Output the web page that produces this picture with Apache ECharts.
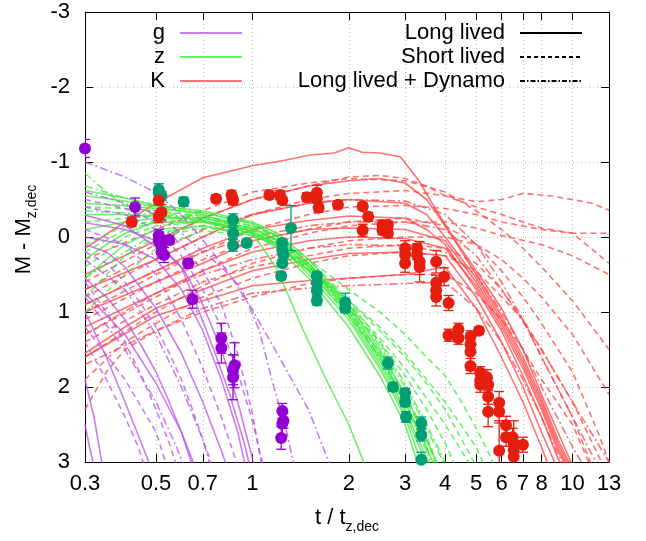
<!DOCTYPE html>
<html><head><meta charset="utf-8">
<script src="https://cdn.jsdelivr.net/npm/echarts@6/dist/echarts.min.js"></script>
<style>html,body{margin:0;padding:0;background:#fff}#c{width:646px;height:541px}</style>
</head><body><div id="c"></div>
<script>
// ---------- tick labels ----------
const xTicks = [0.3,0.5,0.7,1,2,3,4,5,6,7,8,10,13];
const yTicks = [-3,-2,-1,0,1,2,3];

// ---------- observed points (t, M, error) ----------
const gT = [0.3,0.43,0.51,0.51,0.52,0.52,0.53,0.55,0.63,0.65,0.8,0.8,0.87,0.87,0.88,1.24,1.25,1.24,1.23];
const gM = [-1.18,-0.4,-0.02,0.05,0.12,0.2,0.24,0.04,0.35,0.83,1.35,1.48,1.87,1.77,1.71,2.32,2.45,2.49,2.68];
const gE = [0.12,0.12,0.08,0.06,0.06,0.08,0.1,0.06,0.06,0.12,0.2,0.2,0.3,0.2,0.3,0.1,0.1,0.15,0.15];

const zT = [0.51,0.51,0.52,0.61,0.87,0.87,0.87,0.96,1.24,1.24,1.25,1.24,1.23,1.32,1.59,1.59,1.59,1.59,1.95,1.95,2.65,2.75,3.0,3.0,3.02,3.37,3.37,3.37];
const zM = [-0.63,-0.59,-0.55,-0.47,-0.23,-0.05,0.11,0.08,0.08,0.17,0.24,0.35,0.52,-0.12,0.52,0.61,0.72,0.85,0.87,0.95,1.68,2.0,2.08,2.2,2.4,2.48,2.64,2.97];
const zE = [0.08,0.06,0.06,0.06,0.08,0.08,0.08,0.05,0.05,0.05,0.05,0.05,0.05,0.3,0.05,0.05,0.05,0.06,0.12,0.06,0.08,0.05,0.06,0.06,0.07,0.08,0.08,0.1];

const kT = [0.42,0.51,0.52,0.51,0.77,0.86,0.87,1.13,1.22,1.24,1.48,1.59,1.59,1.61,1.85,2.21,2.3,2.21,2.55,2.55,2.65,2.65,3.0,3.0,3.0,3.27,3.27,3.33,3.33,3.75,3.97,3.75,3.75,3.75,4.1,4.1,4.4,4.4,4.8,4.8,4.8,4.8,5.1,5.15,5.15,5.15,5.4,5.45,5.45,5.45,5.9,5.9,5.9,6.2,6.2,6.5,6.55,6.55,6.55,7.0];
const kM = [-0.2,-0.49,-0.33,-0.27,-0.51,-0.56,-0.49,-0.56,-0.56,-0.49,-0.53,-0.59,-0.51,-0.39,-0.43,-0.41,-0.27,-0.09,-0.16,-0.09,-0.16,-0.05,0.15,0.24,0.35,0.15,0.24,0.33,0.4,0.33,0.53,0.61,0.71,0.8,0.88,1.31,1.23,1.35,1.33,1.43,1.53,1.72,1.25,1.81,1.91,1.97,1.87,1.97,2.13,2.33,2.21,2.33,2.85,2.51,2.67,2.67,2.75,2.84,2.93,2.77];
const kE = [0.06,0.06,0.1,0.08,0.05,0.06,0.06,0.05,0.06,0.05,0.06,0.1,0.05,0.06,0.05,0.05,0.06,0.08,0.06,0.06,0.05,0.05,0.1,0.1,0.12,0.06,0.06,0.27,0.1,0.15,0.12,0.1,0.1,0.12,0.1,0.08,0.08,0.08,0.08,0.08,0.25,0.1,0.05,0.08,0.1,0.1,0.1,0.08,0.1,0.2,0.15,0.15,0.4,0.12,0.12,0.12,0.3,0.1,0.1,0.1];

// ---------- model curves [t, M] ----------
const kLong = [
 [[0.3,0.15],[0.4,-0.2],[0.5,-0.45],[0.7,-0.79],[1,-0.95],[1.25,-1.02],[1.5,-1.09],[1.8,-1.12],[2,-1.19],[2.2,-1.13],[2.5,-1.12],[2.9,-1.07],[3.3,-0.76],[3.7,-0.4],[4.1,-0.09],[5,0.45],[6,0.95],[7,1.5],[8,2.1],[9,2.6],[10,3.05]],
 [[0.3,0.5],[0.5,0.05],[0.7,-0.25],[1,-0.5],[1.5,-0.68],[2,-0.75],[2.5,-0.78],[3,-0.72],[3.5,-0.5],[4,-0.15],[5,0.5],[6,1.05],[7,1.6],[8,2.15],[9,2.7],[10,3.1]],
 [[0.3,0.9],[0.5,0.45],[0.7,0.15],[1,-0.1],[1.5,-0.22],[2,-0.28],[3,-0.25],[3.5,-0.1],[4,0.1],[5,0.7],[6,1.25],[7,1.85],[8,2.4],[9,2.95],[10,3.3]],
 [[0.3,1.2],[0.5,0.75],[0.7,0.45],[1,0.2],[1.5,0.05],[2,0.0],[3,0.02],[4,0.15],[5,0.65],[6,1.2],[7,1.75],[8,2.3],[9,2.85],[10,3.2]],
 [[0.3,1.55],[0.4,1.2],[0.5,0.95],[0.7,0.7],[1,0.45],[1.5,0.3],[2,0.22],[3,0.2],[4,0.25],[5,0.8],[6,1.4],[7,2.0],[8,2.6],[9,3.1]],
 [[0.3,1.0],[0.5,0.6],[0.7,0.35],[1,0.05],[1.5,-0.1],[2,-0.12],[3,-0.1],[4,0.05],[5,0.6],[6,1.15],[7,1.7],[8,2.25],[9,2.8],[10,3.2]],
 [[0.3,1.6],[0.5,1.05],[0.7,0.85],[1,0.65],[1.5,0.58],[2,0.55],[3,0.5],[4,0.4],[5,0.95],[6,1.6],[7,2.2],[8,2.8],[8.5,3.1]],
 [[0.3,0.7],[0.5,0.3],[0.7,0.0],[1,-0.3],[1.5,-0.45],[2,-0.5],[3,-0.45],[3.5,-0.3],[4,0.0],[5,0.55],[6,1.1],[7,1.65],[8,2.2],[9,2.75],[10,3.15]]
];
const kShort = [
 [[0.3,0.6],[0.5,0.1],[0.7,-0.25],[1,-0.5],[1.5,-0.68],[2,-0.8],[2.5,-0.82],[3,-0.78],[3.5,-0.68],[4,-0.55],[5,-0.47],[6,-0.5],[7,-0.58],[8.5,-0.55],[10,-0.5],[11.5,-0.45],[13,-0.36]],
 [[0.3,0.8],[0.5,0.3],[0.7,0.0],[1,-0.3],[1.5,-0.5],[2,-0.58],[3,-0.62],[4,-0.55],[5,-0.4],[6,-0.3],[7,-0.2],[8,-0.12],[10,-0.05],[13,0.35]],
 [[0.3,1.0],[0.5,0.5],[0.7,0.2],[1,-0.1],[1.5,-0.3],[2,-0.4],[3,-0.42],[4,-0.38],[5,-0.3],[6,-0.2],[8,-0.1],[10,-0.05],[13,-0.05]],
 [[0.3,1.3],[0.5,0.8],[0.7,0.45],[1,0.15],[1.5,-0.05],[2,-0.15],[3,-0.2],[4,-0.2],[5,-0.12],[6,-0.02],[8,0.1],[10,0.25],[13,0.5]],
 [[0.3,1.6],[0.5,1.0],[0.7,0.65],[1,0.35],[1.5,0.15],[2,0.05],[3,0.0],[4,0.0],[5,0.1],[6,0.3],[7,0.55],[8,0.8],[10,1.3],[13,2.1]],
 [[0.3,1.9],[0.4,1.4],[0.5,1.15],[0.7,0.8],[1,0.55],[1.5,0.35],[2,0.25],[3,0.2],[4,0.25],[5,0.45],[6,0.8],[7,1.1],[8,1.5],[10,2.2],[12,2.9],[13,3.2]],
 [[0.3,2.3],[0.35,1.8],[0.4,1.5],[0.5,1.25],[0.7,1.0],[1,0.8],[1.5,0.62],[2,0.55],[3,0.5],[4,0.5],[5,0.75],[6,1.1],[7,1.5],[8,1.9],[10,2.5],[11.5,3.1]],
 [[0.3,0.3],[0.5,-0.1],[0.7,-0.35],[1,-0.6],[1.5,-0.72],[2,-0.78],[3,-0.75],[4,-0.6],[5,-0.35],[6,-0.1],[7,0.15],[8,0.4],[10,0.85],[13,1.5]],
 [[0.3,1.1],[0.5,0.6],[0.7,0.3],[1,0.05],[1.5,-0.1],[2,-0.2],[3,-0.25],[4,-0.15],[5,0.1],[6,0.45],[7,0.8],[8,1.15],[10,1.8],[12,2.6],[13,3.0]],
 [[0.3,1.4],[0.5,0.9],[0.7,0.6],[1,0.4],[1.5,0.25],[2,0.15],[3,0.1],[4,0.15],[5,0.35],[6,0.7],[7,1.1],[8,1.6],[10,2.4],[11.5,3.05]]
];
const kDynamo = [
 [[0.3,0.7],[0.5,0.2],[0.7,-0.1],[1,-0.3],[1.5,-0.45],[2,-0.5],[3,-0.48],[4,-0.3],[5,0.1],[6,0.6],[7,1.1],[8,1.6],[10,2.4],[12,3.05]],
 [[0.3,1.3],[0.5,0.75],[0.7,0.5],[1,0.3],[1.5,0.15],[2,0.1],[3,0.12],[4,0.2],[5,0.5],[6,1.0],[7,1.5],[8,2.0],[10,2.8],[11,3.1]],
 [[0.3,0.9],[0.5,0.45],[0.7,0.2],[1,0.0],[1.5,-0.15],[2,-0.2],[3,-0.2],[4,-0.1],[5,0.25],[6,0.7],[8,1.5],[10,2.2],[13,3.0]],
 [[0.3,1.7],[0.5,1.25],[0.7,0.95],[1,0.75],[1.5,0.68],[2,0.65],[3,0.62],[4,0.6],[5,0.95],[6,1.4],[7,1.9],[8,2.4],[9,2.9],[10,3.2]]
];
const zLong = [
 [[0.3,-0.45],[0.4,-0.42],[0.5,-0.38],[0.7,-0.32],[1,-0.18],[1.2,0.0],[1.5,0.35],[2,0.95],[2.5,1.55],[3,2.2],[3.5,2.8],[3.7,3.05]],
 [[0.3,-0.3],[0.4,-0.3],[0.5,-0.28],[0.7,-0.22],[1,-0.08],[1.2,0.1],[1.5,0.5],[2,1.1],[2.5,1.75],[3,2.4],[3.4,3.05]],
 [[0.3,-0.55],[0.4,-0.48],[0.5,-0.4],[0.7,-0.3],[0.9,-0.15],[1.0,-0.05],[1.1,0.2],[1.2,0.45],[1.44,1.24],[1.7,1.9],[2,2.5],[2.25,3.05]],
 [[0.3,0.3],[0.35,0.1],[0.4,-0.05],[0.5,-0.2],[0.7,-0.2],[1,-0.05],[1.2,0.15],[1.5,0.55],[2,1.2],[2.5,1.85],[3,2.5],[3.3,3.05]],
 [[0.3,-0.1],[0.4,-0.2],[0.5,-0.25],[0.7,-0.25],[1,-0.12],[1.2,0.05],[1.5,0.4],[2,1.0],[2.5,1.65],[3,2.3],[3.5,2.95],[3.6,3.1]],
 [[0.3,-0.62],[0.4,-0.52],[0.5,-0.42],[0.7,-0.35],[1,-0.2],[1.2,-0.05],[1.5,0.3],[2,0.9],[2.5,1.5],[3,2.1],[3.5,2.7],[3.8,3.05]],
 [[0.3,0.55],[0.35,0.3],[0.4,0.1],[0.5,-0.1],[0.7,-0.15],[1,-0.02],[1.2,0.12],[1.5,0.45],[2,1.05],[2.5,1.7],[3,2.35],[3.4,2.9],[3.5,3.05]]
];
const zShort = [
 [[0.3,0.4],[0.35,0.2],[0.4,0.0],[0.5,-0.15],[0.7,-0.2],[1,-0.1],[1.2,0.05],[1.5,0.3],[2,0.7],[2.5,1.0],[3,1.3],[3.5,1.6],[4,1.85],[4.5,2.2],[5,2.55],[5.5,2.9],[5.7,3.05]],
 [[0.3,0.8],[0.35,0.5],[0.4,0.25],[0.5,0.0],[0.7,-0.12],[1,-0.05],[1.2,0.1],[1.5,0.4],[2,0.85],[2.5,1.25],[3,1.6],[3.5,1.95],[4,2.3],[4.5,2.7],[5,3.05]],
 [[0.3,-0.2],[0.4,-0.25],[0.5,-0.28],[0.7,-0.25],[1,-0.1],[1.2,0.05],[1.5,0.4],[2,0.95],[2.5,1.4],[3,1.85],[3.5,2.3],[4,2.75],[4.3,3.05]],
 [[0.3,1.0],[0.4,0.5],[0.5,0.15],[0.7,-0.08],[1,-0.02],[1.2,0.12],[1.5,0.45],[2,0.9],[2.5,1.35],[3,1.75],[3.5,2.15],[4,2.5],[4.5,2.85],[4.8,3.05]],
 [[0.3,-0.4],[0.4,-0.38],[0.5,-0.35],[0.7,-0.28],[1,-0.15],[1.2,0.0],[1.5,0.35],[2,0.95],[2.5,1.55],[3,2.1],[3.5,2.65],[3.8,3.05]],
 [[0.3,0.2],[0.4,-0.1],[0.5,-0.2],[0.7,-0.2],[1,-0.06],[1.2,0.1],[1.5,0.42],[2,0.85],[2.5,1.2],[3,1.55],[3.5,1.9],[4,2.2],[5,2.8],[5.3,3.05]],
 [[0.3,0.1],[0.4,-0.15],[0.5,-0.22],[0.7,-0.22],[1,-0.08],[1.2,0.08],[1.5,0.45],[2,1.05],[2.5,1.6],[3,2.15],[3.5,2.7],[3.75,3.05]]
];
const zDynamo = [
 [[0.3,-0.85],[0.35,-0.6],[0.4,-0.42],[0.5,-0.32],[0.7,-0.28],[1,-0.15],[1.2,0.02],[1.5,0.38],[2,0.98],[2.5,1.6],[3,2.25],[3.5,2.85],[3.6,3.05]],
 [[0.3,-0.68],[0.4,-0.52],[0.5,-0.42],[0.7,-0.33],[1,-0.18],[1.2,-0.02],[1.5,0.3],[2,0.85],[2.5,1.4],[3,1.95],[3.5,2.5],[4,3.0],[4.1,3.1]],
 [[0.3,0.55],[0.4,0.2],[0.5,-0.05],[0.7,-0.15],[1,-0.05],[1.2,0.1],[1.5,0.45],[2,1.0],[2.5,1.6],[3,2.2],[3.5,2.8],[3.65,3.05]],
 [[0.3,-0.35],[0.4,-0.32],[0.5,-0.3],[0.7,-0.26],[1,-0.12],[1.2,0.04],[1.5,0.38],[2,0.9],[2.5,1.45],[3,2.0],[3.5,2.55],[4,3.05]]
];
const gLong = [
 [[0.3,-0.29],[0.4,-0.15],[0.48,0.08],[0.55,0.25],[0.61,0.44],[0.69,0.84],[0.8,1.5],[0.9,2.2],[1.0,2.95],[1.01,3.05]],
 [[0.3,-0.19],[0.4,-0.1],[0.5,0.05],[0.6,0.4],[0.66,0.84],[0.75,1.45],[0.85,2.1],[0.95,2.8],[0.98,3.05]],
 [[0.3,0.0],[0.4,0.1],[0.5,0.3],[0.6,0.7],[0.7,1.25],[0.8,1.9],[0.9,2.6],[0.95,3.05]],
 [[0.3,1.9],[0.32,2.4],[0.34,3.05]],
 [[0.3,1.0],[0.35,1.6],[0.4,2.2],[0.45,2.75],[0.48,3.05]],
 [[0.3,0.55],[0.35,0.8],[0.4,1.1],[0.45,1.45],[0.5,1.8],[0.55,2.2],[0.6,2.6],[0.65,3.05]],
 [[0.3,0.1],[0.35,0.2],[0.4,0.4],[0.5,0.95],[0.6,1.55],[0.7,2.2],[0.8,2.85],[0.83,3.05]],
 [[0.3,0.75],[0.4,1.3],[0.5,1.95],[0.6,2.6],[0.66,3.05]],
 [[0.3,2.5],[0.31,2.8],[0.32,3.05]]
];
const gShort = [
 [[0.3,0.6],[0.35,1.0],[0.4,1.4],[0.45,1.85],[0.5,2.3],[0.55,2.75],[0.58,3.05]],
 [[0.3,0.2],[0.35,0.35],[0.4,0.6],[0.45,0.9],[0.5,1.2],[0.55,1.55],[0.6,1.9],[0.65,2.3],[0.7,2.7],[0.75,3.05]],
 [[0.3,-0.1],[0.4,0.1],[0.5,0.5],[0.6,1.1],[0.7,1.75],[0.8,2.4],[0.9,3.05]],
 [[0.3,-0.5],[0.4,-0.38],[0.5,-0.2],[0.6,0.1],[0.7,0.45],[0.8,0.9],[0.9,1.55],[1.0,2.35],[1.07,3.05]],
 [[0.3,-0.4],[0.4,-0.3],[0.5,-0.1],[0.6,0.25],[0.7,0.7],[0.8,1.2],[0.9,1.8],[1.0,2.45],[1.08,3.05]],
 [[0.3,1.2],[0.4,1.9],[0.5,2.6],[0.54,3.05]],
 [[0.3,1.4],[0.35,1.9],[0.4,2.4],[0.44,2.8],[0.46,3.05]]
];
const gDynamo = [
 [[0.3,-1.0],[0.4,-0.8],[0.5,-0.59],[0.6,-0.3],[0.7,0.04],[0.85,0.5],[1.0,0.97],[1.25,1.7],[1.5,2.31],[1.75,3.05]],
 [[0.3,-0.6],[0.4,-0.45],[0.5,-0.3],[0.6,-0.05],[0.7,0.2],[0.8,0.4],[0.92,0.67],[1.05,1.24],[1.15,1.9],[1.28,2.6],[1.35,3.05]],
 [[0.3,0.3],[0.4,0.7],[0.5,1.3],[0.6,2.0],[0.7,2.7],[0.74,3.05]],
 [[0.3,0.8],[0.4,1.5],[0.5,2.2],[0.58,2.8],[0.61,3.05]]
];

// ---------- styles ----------
const FONT = 'Liberation Sans, Arial, Helvetica, sans-serif';
const gLine = 'rgba(185,80,235,0.75)';
const zLine = 'rgba(60,235,60,0.75)';
const kLine = 'rgba(255,68,68,0.75)';
const gDot = '#9400d3', zDot = '#009e73', kDot = '#e51e10';
const SOLID = 'solid', DASH = [6,4], DASHDOT = [8,3,2,3];
const L = v => Math.log10(v);

function curves(list, color, dash) {
  return list.map(c => ({
    type: 'line', data: c.map(p => [L(p[0]), p[1]]), symbol: 'none', silent: true,
    lineStyle: { color: color, width: 1.6, type: dash }, z: 2, clip: true, animation: false
  }));
}
function errBars(T, M, E, color) {
  return {
    type: 'custom', clip: true, silent: true, z: 5, animation: false,
    data: T.map((t, i) => [L(t), M[i], E[i]]),
    encode: { x: 0, y: 1 },
    renderItem(params, api) {
      const x = api.value(0), y = api.value(1), e = api.value(2);
      const a = api.coord([x, y - e]), b = api.coord([x, y + e]);
      const w = 5, st = { stroke: color, lineWidth: 1.3 };
      return { type: 'group', children: [
        { type: 'line', shape: { x1: a[0], y1: a[1], x2: b[0], y2: b[1] }, style: st },
        { type: 'line', shape: { x1: a[0] - w, y1: a[1], x2: a[0] + w, y2: a[1] }, style: st },
        { type: 'line', shape: { x1: b[0] - w, y1: b[1], x2: b[0] + w, y2: b[1] }, style: st }
      ]};
    }
  };
}
function dots(T, M, color) {
  return { type: 'scatter', data: T.map((t, i) => [L(t), M[i]]), symbol: 'circle', symbolSize: 12,
    itemStyle: { color: color, opacity: 1 }, z: 6, silent: true, animation: false };
}
function legendDummy(name, color, dash) {
  return { type: 'line', name: name, data: [], symbol: 'none',
    lineStyle: { color: color, width: name.length === 1 ? 2.5 : 1.4, type: dash }, itemStyle: { color: color } };
}

const series = [].concat(
  [legendDummy('g', gLine, SOLID), legendDummy('z', zLine, SOLID), legendDummy('K', kLine, SOLID),
   legendDummy('Long lived', '#000', SOLID), legendDummy('Short lived', '#000', [4,3]),
   legendDummy('Long lived + Dynamo', '#000', [5,2,1.5,2])],
  curves(kLong, kLine, SOLID), curves(kShort, kLine, DASH), curves(kDynamo, kLine, DASHDOT),
  curves(zLong, zLine, SOLID), curves(zShort, zLine, DASH), curves(zDynamo, zLine, DASHDOT),
  curves(gLong, gLine, SOLID), curves(gShort, gLine, DASH), curves(gDynamo, gLine, DASHDOT),
  [errBars(gT, gM, gE, gDot), errBars(zT, zM, zE, zDot), errBars(kT, kM, kE, kDot),
   dots(gT, gM, gDot), dots(zT, zM, zDot), dots(kT, kM, kDot)]
);

const xCustom = xTicks.map(L);
const gridLine = { show: true, lineStyle: { color: '#b8b8b8', type: [1, 3], width: 1 } };
const axisBlack = { show: true, onZero: false, lineStyle: { color: '#000', width: 1 } };
const titleRich = {
  n: { fontFamily: FONT, fontSize: 22, color: '#000', verticalAlign: 'top', lineHeight: 22 },
  s: { fontFamily: FONT, fontSize: 14, color: '#000', verticalAlign: 'bottom', lineHeight: 27 }
};

const legendCommon = {
  orient: 'vertical', align: 'right', itemWidth: 62, itemHeight: 22, itemGap: 2, padding: 0,
  selectedMode: false, itemStyle: { opacity: 0 },
  textStyle: { fontFamily: FONT, fontSize: 22, color: '#000', padding: [0, 10, 0, 0] },
  top: 22
};

const option = {
  animation: false,
  backgroundColor: '#fff',
  grid: { left: 85, right: 37, top: 12, bottom: 79, containLabel: false, outerBoundsMode: 'none' },
  legend: [
    Object.assign({}, legendCommon, { data: ['g', 'z', 'K'], right: 403 }),
    Object.assign({}, legendCommon, { data: ['Long lived', 'Short lived', 'Long lived + Dynamo'], right: 63 })
  ],
  xAxis: [
    { type: 'value', position: 'bottom', min: L(0.3), max: L(13),
      axisLine: axisBlack,
      axisTick: { show: true, inside: true, length: 8, customValues: xCustom, lineStyle: { color: '#000' } },
      axisLabel: { show: true, customValues: xCustom, margin: 11, color: '#000', fontFamily: FONT, fontSize: 22,
        formatter: v => { const t = xTicks.find(tt => Math.abs(L(tt) - v) < 1e-6); return t === undefined ? '' : String(t); } },
      splitLine: gridLine,
      name: '{n|t / t}{s|z,dec}', nameLocation: 'middle', nameGap: 45,
      nameTextStyle: { rich: titleRich } },
    { type: 'value', position: 'top', min: L(0.3), max: L(13),
      axisLine: axisBlack,
      axisTick: { show: true, inside: true, length: 8, customValues: xCustom, lineStyle: { color: '#000' } },
      axisLabel: { show: false }, splitLine: { show: false } }
  ],
  yAxis: [
    { type: 'value', position: 'left', inverse: true, min: yTicks[0], max: yTicks[yTicks.length - 1], interval: 1,
      axisLine: axisBlack,
      axisTick: { show: true, inside: true, length: 8, lineStyle: { color: '#000' } },
      axisLabel: { margin: 15, color: '#000', fontFamily: FONT, fontSize: 22 },
      splitLine: gridLine,
      name: '{n|M - M}{s|z,dec}', nameLocation: 'middle', nameGap: 42,
      nameTextStyle: { rich: titleRich, padding: [0, 0, 0, 15] } },
    { type: 'value', position: 'right', inverse: true, min: yTicks[0], max: yTicks[yTicks.length - 1], interval: 1,
      axisLine: axisBlack,
      axisTick: { show: true, inside: true, length: 8, lineStyle: { color: '#000' } },
      axisLabel: { show: false }, splitLine: { show: false } }
  ],
  series: series
};

const chart = echarts.init(document.getElementById('c'), null, { renderer: 'canvas', width: 646, height: 541 });
chart.setOption(option);
</script>
</body></html>
